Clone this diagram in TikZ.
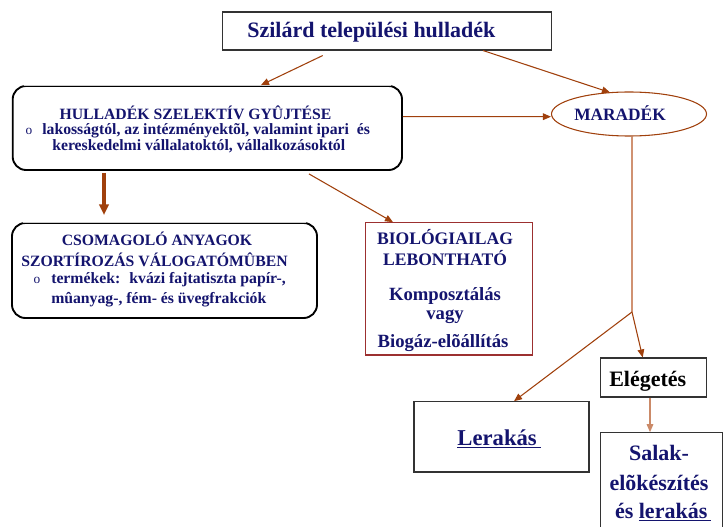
\documentclass[tikz,border=0pt]{standalone}
\usepackage{fontspec}
\setmainfont{Liberation Serif}
\usetikzlibrary{arrows.meta,shapes.geometric,calc}
\definecolor{navy}{HTML}{14146E}
\definecolor{brn}{HTML}{A0400C}
\definecolor{tan}{HTML}{D09272}
\definecolor{biored}{HTML}{9C3030}
\tikzset{
  boxst/.style={draw=black!80, line width=0.8pt, fill=white, inner sep=0pt},
  rboxst/.style={draw=black, line width=1.4pt, fill=white, inner sep=0pt, rounded corners=10pt},
  txt/.style={text=navy, inner sep=0pt, anchor=base, font=\bfseries},
  listfont/.style={font=\bfseries\fontsize{11.8}{12}\selectfont},
  arr/.style={draw=brn, line width=0.8pt, -{Triangle[length=6pt,width=5pt]}},
}
\begin{document}
\begin{tikzpicture}[x={(0.75pt,0)}, y={(0,-0.75pt)}]
\useasboundingbox (0,0) rectangle (723,527);
\clip (0,0) rectangle (723,527);

% boxes
\node[boxst, minimum width=329*0.75pt, minimum height=38*0.75pt] (top) at (387.2,31) {};
\node[rboxst, minimum width=389.3*0.75pt, minimum height=84*0.75pt] (hull) at (207.35,128) {};
\draw[white, line width=2pt] ([xshift=10pt]hull.north west) -- ([xshift=-10pt]hull.north east);
\draw[black!20, line width=0.6pt] ([xshift=9pt]hull.north west) -- ([xshift=-9pt]hull.north east);
\node[rboxst, minimum width=305*0.75pt, minimum height=95*0.75pt] (csom) at (164.5,270.5) {};
\draw[white, line width=2pt] ([xshift=10pt]csom.north west) -- ([xshift=-10pt]csom.north east);
\draw[black!20, line width=0.6pt] ([xshift=9pt]csom.north west) -- ([xshift=-9pt]csom.north east);
\node[boxst, draw=biored, minimum width=167*0.75pt, minimum height=132.3*0.75pt] (bio) at (449.2,288.85) {};
\node[ellipse, draw=brn, line width=0.8pt, inner sep=0pt, minimum width=155*0.75pt, minimum height=44*0.75pt] (mar) at (629,114) {};
\node[boxst, minimum width=106*0.75pt, minimum height=39*0.75pt] (eleg) at (653.7,377.5) {};
\node[boxst, minimum width=175*0.75pt, minimum height=70.3*0.75pt] (ler) at (501.5,436.85) {};
\node[boxst, minimum width=121.8*0.75pt, minimum height=107.3*0.75pt] (salak) at (661.6,486.35) {};
\coordinate (split) at (632,312);

% connectors
\draw[arr] ([shift={(-64.5,5)}]top.south) -- ([shift={(53.65,0)}]hull.north);
\draw[arr] ([shift={(95.8,0)}]top.south) -- ([shift={(-19,1)}]mar.north);
\draw[arr] ([shift={(0,-11.3)}]hull.east) -- ([shift={(0,2.7)}]mar.west);
\draw[draw=brn, line width=2.3pt, -{Triangle[length=8pt,width=7pt]}] ([shift={(-103.35,2)}]hull.south) -- ([shift={(-60.5,-7)}]csom.north);
\draw[arr] ([shift={(101.65,3)}]hull.south) -- ([shift={(-56.2,0)}]bio.north);
\draw[draw=tan, line width=1.5pt, -{Triangle[length=6pt,width=6pt]}, arrows={-[color=brn]}] ([shift={(3,0)}]mar.south) -- (split);
\draw[arr] (split) -- ([shift={(12.5,0)}]ler.north);
\draw[arr] (split) -- ([shift={(-11,0)}]eleg.north);
\draw[arr, draw=tan!90!brn] ([shift={(-3.7,0)}]eleg.south) -- ([shift={(-11.6,0)}]salak.north);

% texts
\node[txt, anchor=base west, font=\bfseries\fontsize{16.5}{18}\selectfont] (ttop) at (247,38) {Szilárd települési hulladék};

\node[txt, listfont] (th1) at (195.5,120) {HULLADÉK SZELEKTÍV GYÛJTÉSE};
\node[txt, font=\fontsize{10}{11}\selectfont] (thb) at (29,135) {o};
\node[txt, anchor=base west, listfont] (th2) at (42,135) {lakosságtól, az intézményektõl, valamint ipari~ és};
\node[txt, anchor=base west, listfont] (th3) at (52,151) {kereskedelmi vállalatoktól, vállalkozásoktól};

\node[txt, font=\bfseries\fontsize{13}{14}\selectfont] (tmar) at (620,120.7) {MARADÉK};

\node[txt, listfont] (tc1) at (157,245) {CSOMAGOLÓ ANYAGOK};
\node[txt, listfont] (tc2) at (154.5,266) {SZORTÍROZÁS VÁLOGATÓMÛBEN};
\node[txt, font=\fontsize{10}{11}\selectfont] (tcb) at (37,283) {o};
\node[txt, anchor=base west, listfont] (tc3) at (51,283.3) {termékek:~ kvázi fajtatiszta papír-,};
\node[txt, anchor=base west, listfont] (tc4) at (51,303) {mûanyag-, fém- és üvegfrakciók};

\node[txt, font=\bfseries\fontsize{13.2}{14}\selectfont] (tb1) at (445,244) {BIOLÓGIAILAG};
\node[txt, font=\bfseries\fontsize{13.2}{14}\selectfont] (tb2) at (445,265) {LEBONTHATÓ};
\node[txt, font=\bfseries\fontsize{14}{15}\selectfont] (tb3) at (445,300) {Komposztálás};
\node[txt, font=\bfseries\fontsize{14}{15}\selectfont] (tb4) at (445,319) {vagy};
\node[txt, font=\bfseries\fontsize{14}{15}\selectfont] (tb5) at (443,347) {Biogáz-elõállítás};

\node[txt, text=black, anchor=base west, font=\bfseries\fontsize{16.5}{18}\selectfont] (tel) at (609,386.7) {Elégetés};
\node[txt, font=\bfseries\fontsize{17}{18}\selectfont] (tler) at (499,445) {\underline{Lerakás\,}};
\node[txt, font=\bfseries\fontsize{16.5}{18}\selectfont] (ts1) at (659,460) {Salak-};
\node[txt, font=\bfseries\fontsize{16.5}{18}\selectfont] (ts2) at (659,490) {elõkészítés};
\node[txt, font=\bfseries\fontsize{16.5}{18}\selectfont] (ts3) at (663,518.3) {és \underline{lerakás\,}};
\end{tikzpicture}
\end{document}
